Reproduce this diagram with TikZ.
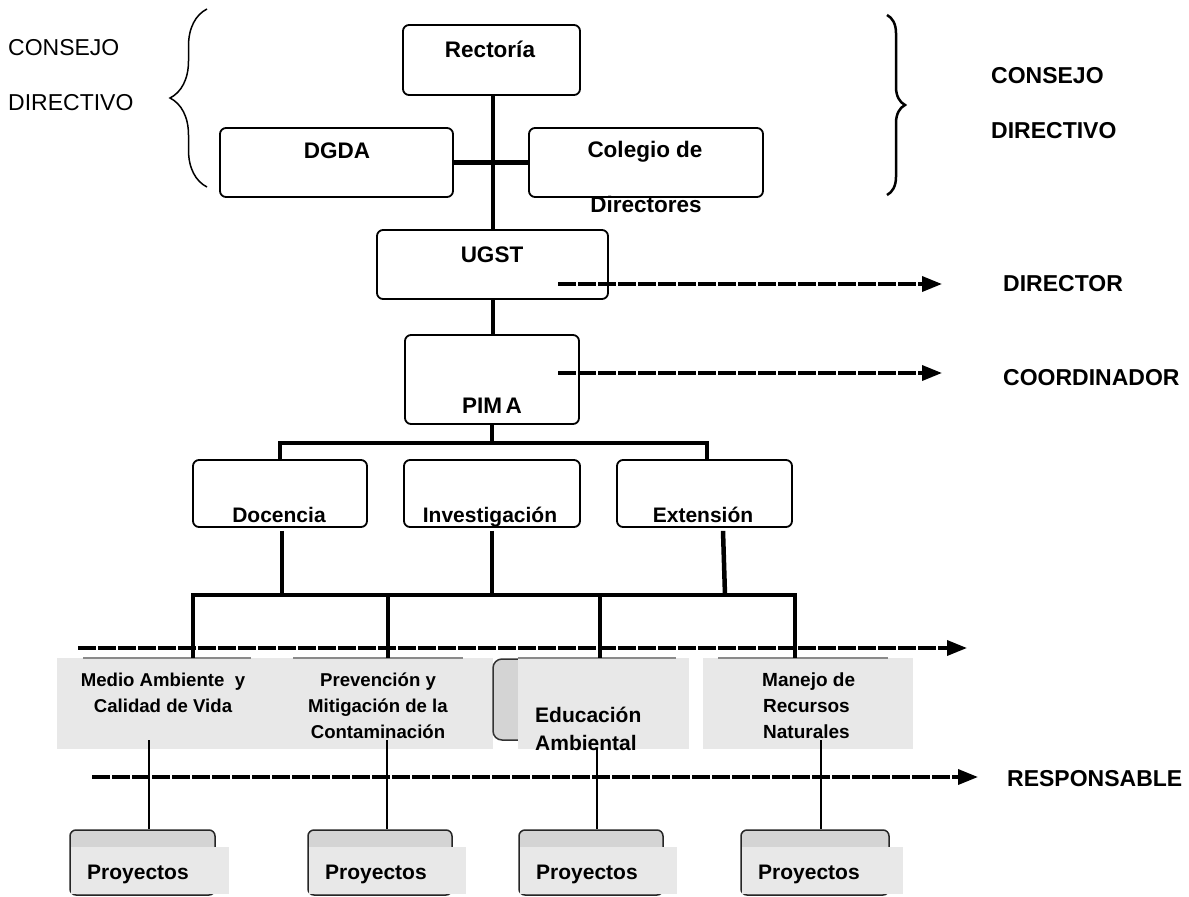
\documentclass[tikz,border=0pt]{standalone}
\usepackage{fontspec}
\setmainfont{Liberation Sans}
\usetikzlibrary{arrows.meta,decorations.pathreplacing}

\definecolor{shadegray}{HTML}{D4D4D4}
\definecolor{panelgray}{HTML}{E8E8E8}
\definecolor{edgegray}{HTML}{8A8A8A}

\tikzset{
  orgbox/.style={draw=black, line width=1.8pt, rounded corners=6pt, fill=white, inner sep=0pt},
  panel/.style={fill=panelgray, draw=none, inner sep=0pt},
  projbox/.style={draw=black!85, line width=1.5pt, rounded corners=6pt, fill=shadegray, inner sep=0pt,
                  minimum height=65pt},
  trunk/.style={line width=4.5pt},
  drop/.style={line width=2.8pt},
  dasharrow/.style={line width=3.5pt, dash pattern=on 18pt off 2pt,
                    -{Triangle[length=20pt,width=15pt]}},
  boxtxt/.style={inner sep=0pt, anchor=base, font=\fontsize{22.5}{26}\selectfont\bfseries},
  sidetxt/.style={inner sep=0pt, anchor=base west, font=\fontsize{23}{27}\selectfont\bfseries},
  plaintxt/.style={inner sep=0pt, anchor=base west, font=\fontsize{23}{27}\selectfont},
  unittxt/.style={inner sep=0pt, anchor=base, font=\fontsize{21}{25}\selectfont\bfseries},
  areatxt/.style={inner sep=0pt, anchor=base, font=\fontsize{18.6}{22}\selectfont\bfseries},
  areatxtw/.style={inner sep=0pt, anchor=base west, font=\fontsize{19}{22}\selectfont\bfseries},
  edutxt/.style={inner sep=0pt, anchor=base west, font=\fontsize{21}{25}\selectfont\bfseries},
}

\begin{document}
\begin{tikzpicture}[x=1pt,y=-1pt]
\useasboundingbox (0,0) rectangle (1189,897);
\fill[white] (0,0) rectangle (1189,897);

% ---- council braces and labels ----
\draw[line width=1.5pt, decorate, decoration={brace, amplitude=37pt}] (207,187) -- (207,9);
\draw[line width=2.5pt, decorate, decoration={brace, amplitude=18pt}] (887,15) -- (887,195);
\node[plaintxt] (cl1) at (8,55) {CONSEJO};
\node[plaintxt] (cl2) at (8,110) {DIRECTIVO};
\node[sidetxt] (cr1) at (991,83) {CONSEJO};
\node[sidetxt] (cr2) at (991,138) {DIRECTIVO};

% ---- upper boxes ----
\node[orgbox, minimum width=177pt, minimum height=70pt] (rect) at (491.5,60) {};
\node[orgbox, minimum width=233pt, minimum height=69pt] (dgda) at (336.5,162.5) {};
\node[orgbox, minimum width=234pt, minimum height=69pt] (coleg) at (646,162.5) {};
\node[orgbox, minimum width=231pt, minimum height=69pt] (ugst) at (492.5,264.5) {};
\node[orgbox, minimum width=174pt, minimum height=89pt] (pima) at (492,379.5) {};
\node[orgbox, minimum width=174pt, minimum height=67pt] (doc) at (280,493.5) {};
\node[orgbox, minimum width=176pt, minimum height=67pt] (inv) at (492,493.5) {};
\node[orgbox, minimum width=175pt, minimum height=67pt] (ext) at (704.5,493.5) {};

% ---- upper connectors ----
\draw[trunk] ([xshift=1.5pt]rect.south) -- ([xshift=1.5pt]rect.south |- ugst.north);
\draw[trunk] (dgda.east) -- (coleg.west);
\draw[trunk] ([xshift=0.5pt]ugst.south) -- ([xshift=0.5pt]ugst.south |- pima.north);
\coordinate (pbar) at (492,443);
\draw[trunk] (pima.south) -- (pbar);
\draw[trunk] (doc.north) -- (doc.north |- pbar) -| ([xshift=2.5pt]ext.north);

% ---- upper texts ----
\node[boxtxt] (trect) at (490,57) {Rectoría};
\node[boxtxt] (tdgda) at (337,158) {DGDA};
\node[boxtxt] (tcol1) at (645,157) {Colegio de};
\node[boxtxt] (tcol2) at (646,212) {Directores};
\node[boxtxt] (tugst) at (492,262) {UGST};
\node[boxtxt] (tpima) at (492,413) {PIM\,A};
\node[unittxt] (tdoc) at (279,522) {Docencia};
\node[unittxt] (tinv) at (490,522) {Investigación};
\node[unittxt] (text) at (703,522) {Extensión};

% ---- role arrows ----
\node[sidetxt] (rdir) at (1003,291) {DIRECTOR};
\node[sidetxt] (rcoo) at (1003,385) {COORDINADOR};
\coordinate (a1s) at (558,284);
\coordinate (a1e) at (942,284);
\coordinate (a2s) at (558,373);
\coordinate (a2e) at (942,373);
\draw[dasharrow] (a1s) -- (a1e);
\draw[dasharrow] (a2s) -- (a2e);

% ---- area panels ----
\node[panel, minimum width=233pt, minimum height=91pt] (medio) at (173.5,703.5) {};
\node[panel, minimum width=203pt, minimum height=91pt] (prev) at (391.5,703.5) {};
\draw[draw=black!80, line width=1.5pt, rounded corners=9pt, fill=shadegray] (493,659) rectangle (680,740);
\node[panel, minimum width=171pt, minimum height=91pt] (edu) at (603.5,703.5) {};
\node[panel, minimum width=210pt, minimum height=91pt] (man) at (808,703.5) {};
\draw[edgegray, line width=2pt] (83,658) -- (251,658);
\draw[edgegray, line width=2pt] (293,658) -- (463,658);
\draw[edgegray, line width=2pt] (518,658) -- (676,658);
\draw[edgegray, line width=2pt] (718,658) -- (888,658);

% ---- area texts ----
\node[areatxt] (tm1) at (163,686) {Medio Ambiente~ y};
\node[areatxt] (tm2) at (163,712) {Calidad de Vida};
\node[areatxt] (tp1) at (378,686) {Prevención y};
\node[areatxt] (tp2) at (378,712) {Mitigación de la};
\node[areatxt] (tp3) at (378,738) {Contaminación};
\node[edutxt] (te1) at (535,722) {Educación};
\node[edutxt] (te2) at (535,750) {Ambiental};
\node[areatxtw] (tn1) at (762,686) {Manejo de};
\node[areatxtw] (tn2) at (763,712) {Recursos};
\node[areatxtw] (tn3) at (763,738) {Naturales};

% ---- connectors from the units to the areas ----
\coordinate (b1) at (193,595);
\coordinate (b2) at (388,595);
\coordinate (b3) at (600,595);
\coordinate (b4) at (795,595);
\draw[trunk] ([xshift=2pt,yshift=-3pt]doc.south) -- ([xshift=2pt]doc.south |- b1);
\draw[trunk] ([yshift=-3pt]inv.south) -- (inv.south |- b1);
\draw[trunk] ([xshift=18.5pt,yshift=-3pt]ext.south) -- ([xshift=20.5pt]ext.south |- b1);
\draw[trunk] (b1 |- medio.north) -- (b1) -- (b4) -- (b4 |- man.north);
\draw[trunk] (b2) -- (b2 |- prev.north);
\draw[trunk] (b3) -- (b3 |- edu.north);

% ---- project boxes ----
\foreach \n/\cx/\w in {proj1/142.5/145, proj2/380/144, proj3/591/144, proj4/815/148}{
  \node[projbox, minimum width=\w pt] (\n) at (\cx,862.5) {};
  \fill[panelgray] ([xshift=2pt,yshift=-18pt]\n.north west) rectangle ([xshift=13pt,yshift=2pt]\n.south east);
}
\node[unittxt, anchor=base west] (tq1) at (87,879) {Proyectos};
\node[unittxt, anchor=base west] (tq2) at (325,879) {Proyectos};
\node[unittxt, anchor=base west] (tq3) at (536,879) {Proyectos};
\node[unittxt, anchor=base west] (tq4) at (758,879) {Proyectos};

% ---- connectors from the areas to the projects ----
\draw[drop] ([xshift=6.5pt]proj1.north |- 0,740) -- ([xshift=6.5pt]proj1.north);
\draw[drop] ([xshift=7pt]proj2.north |- 0,740) -- ([xshift=7pt]proj2.north);
\draw[drop] ([xshift=6pt]proj3.north |- 0,748) -- ([xshift=6pt]proj3.north);
\draw[drop] ([xshift=6pt]proj4.north |- 0,740) -- ([xshift=6pt]proj4.north);

% ---- lower role arrows ----
\coordinate (a3s) at (78,648);
\coordinate (a3e) at (967,648);
\coordinate (a4s) at (92,777);
\coordinate (a4e) at (978,777);
\draw[dasharrow] (a3s) -- (a3e);
\draw[dasharrow] (a4s) -- (a4e);
\node[sidetxt] (rres) at (1007,786) {RESPONSABLE};

\end{tikzpicture}
\end{document}
